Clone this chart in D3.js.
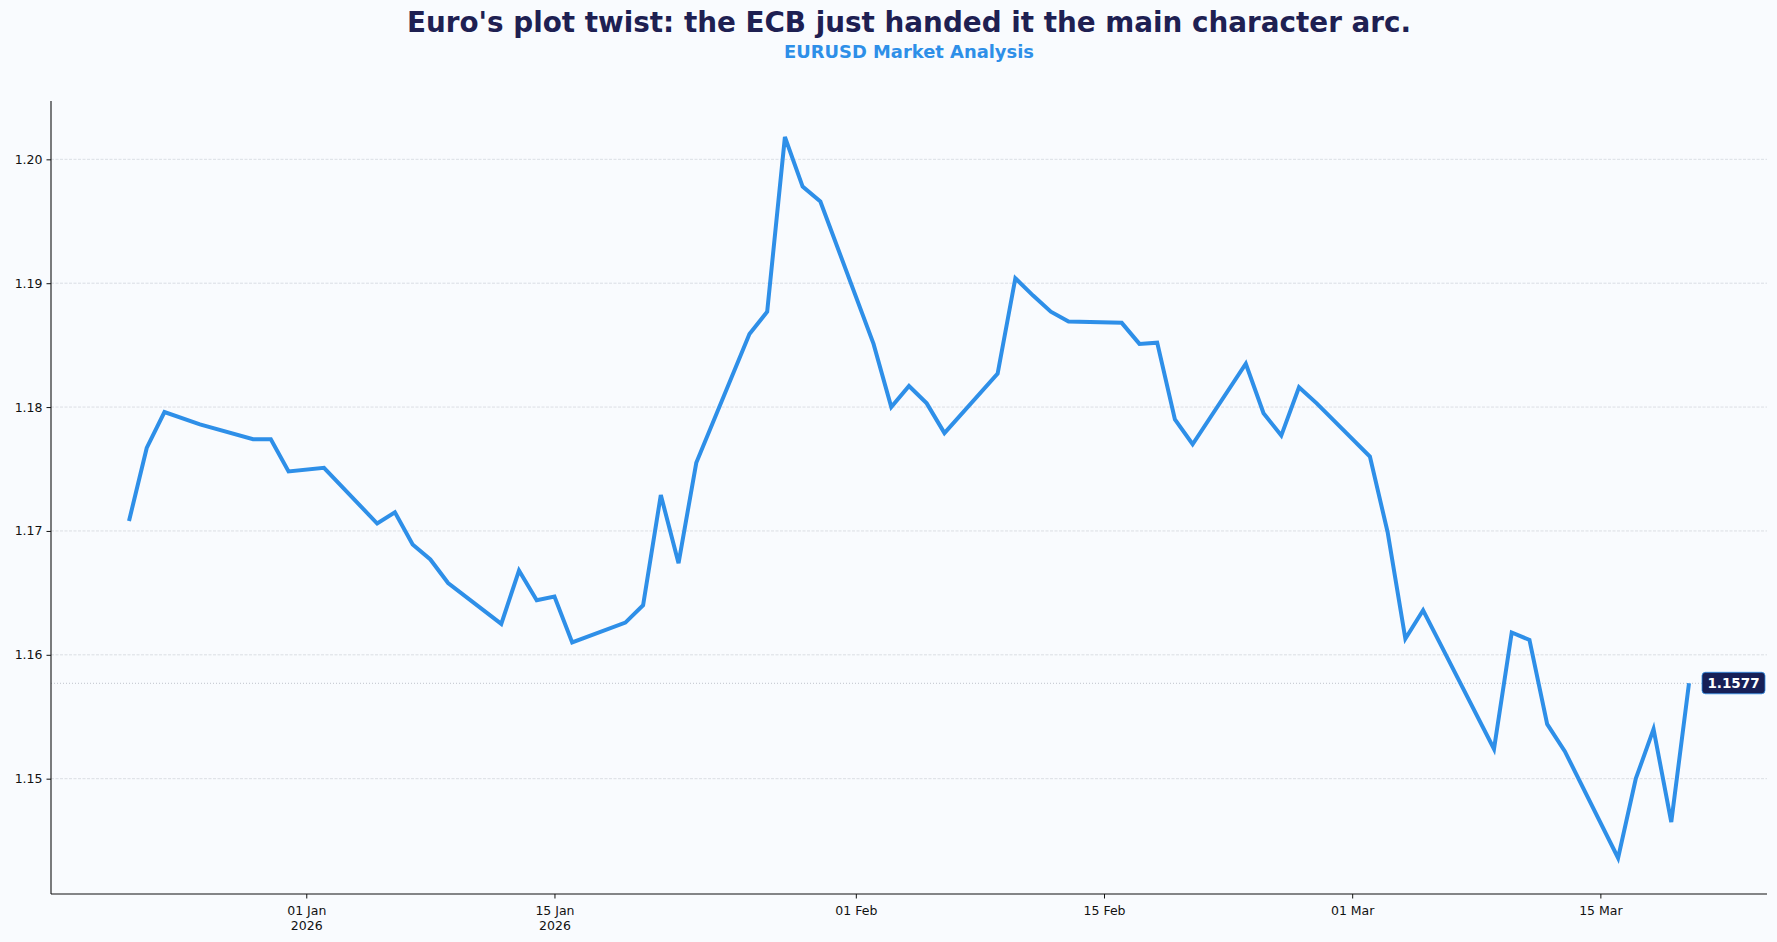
<!DOCTYPE html>
<html>
<head>
<meta charset="utf-8">
<script src="https://cdn.jsdelivr.net/npm/d3@7"></script>
<style>
  html, body { margin: 0; padding: 0; background: #f9fbfe; }
  svg { display: block; }
  text { font-family: "DejaVu Sans", sans-serif; }
</style>
</head>
<body>
<svg id="chart" width="1777" height="942"></svg>
<script>
// ---- Data ----
const titleText = "Euro's plot twist: the ECB just handed it the main character arc.";
const subtitleText = "EURUSD Market Analysis";

const dates = [
  "2025-12-22","2025-12-23","2025-12-24","2025-12-26","2025-12-29","2025-12-30","2025-12-31",
  "2026-01-02","2026-01-05","2026-01-06","2026-01-07","2026-01-08","2026-01-09",
  "2026-01-12","2026-01-13","2026-01-14","2026-01-15","2026-01-16",
  "2026-01-19","2026-01-20","2026-01-21","2026-01-22","2026-01-23",
  "2026-01-26","2026-01-27","2026-01-28","2026-01-29","2026-01-30",
  "2026-02-02","2026-02-03","2026-02-04","2026-02-05","2026-02-06",
  "2026-02-09","2026-02-10","2026-02-11","2026-02-12","2026-02-13",
  "2026-02-16","2026-02-17","2026-02-18","2026-02-19","2026-02-20",
  "2026-02-23","2026-02-24","2026-02-25","2026-02-26","2026-02-27",
  "2026-03-02","2026-03-03","2026-03-04","2026-03-05","2026-03-06",
  "2026-03-09","2026-03-10","2026-03-11","2026-03-12","2026-03-13",
  "2026-03-16","2026-03-17","2026-03-18","2026-03-19","2026-03-20"
];
const closes = [
  1.1708, 1.1767, 1.1796, 1.1786, 1.1774, 1.1774, 1.1748,
  1.1751, 1.1706, 1.1715, 1.1689, 1.1677, 1.1658,
  1.1625, 1.1668, 1.1644, 1.1647, 1.1610,
  1.1626, 1.1640, 1.1729, 1.1674, 1.1755,
  1.1859, 1.1877, 1.2018, 1.1978, 1.1966,
  1.1851, 1.1800, 1.1817, 1.1803, 1.1779,
  1.1827, 1.1904, 1.1890, 1.1877, 1.1869,
  1.1868, 1.1851, 1.1852, 1.1790, 1.1770,
  1.1835, 1.1795, 1.1777, 1.1816, 1.1803,
  1.1760, 1.1699, 1.1613, 1.1636, 1.1608,
  1.1524, 1.1618, 1.1612, 1.1544, 1.1522,
  1.1436, 1.1500, 1.1540, 1.1465, 1.1577
];
const lastValueLabel = "1.1577";

const xTickDates = ["2026-01-01","2026-01-15","2026-02-01","2026-02-15","2026-03-01","2026-03-15"];
const xTickLabels = [["01 Jan","2026"],["15 Jan","2026"],["01 Feb"],["15 Feb"],["01 Mar"],["15 Mar"]];
const yTicks = [1.15, 1.16, 1.17, 1.18, 1.19, 1.20];
const yTickLabels = ["1.15","1.16","1.17","1.18","1.19","1.20"];

// ---- Layout ----
const W = 1777, H = 942;
const plot = { left: 51, right: 1767, top: 101, bottom: 894 };
const colors = {
  bg: "#f9fbfe", title: "#1e2052", subtitle: "#2e8fe8", line: "#2e8fe8",
  grid: "#d3d7dd", axis: "#111111", badge: "#172057"
};

const parse = d3.utcParse("%Y-%m-%d");
const data = dates.map((d, i) => ({ date: parse(d), value: closes[i] }));

// matplotlib-like 5% margins
const xExt = d3.extent(data, d => d.date);
const xPad = (xExt[1] - xExt[0]) * 0.05;
const yExt = d3.extent(data, d => d.value);
const yPad = (yExt[1] - yExt[0]) * 0.05;

const x = d3.scaleUtc()
  .domain([new Date(+xExt[0] - xPad), new Date(+xExt[1] + xPad)])
  .range([plot.left, plot.right]);
const y = d3.scaleLinear()
  .domain([yExt[0] - yPad, yExt[1] + yPad])
  .range([plot.bottom, plot.top]);

const svg = d3.select("#chart");
svg.append("rect").attr("width", W).attr("height", H).attr("fill", colors.bg);

// Titles (centred on the axes)
const cx = (plot.left + plot.right) / 2;
svg.append("text").attr("x", cx).attr("y", 31.5)
  .attr("text-anchor", "middle").attr("font-size", 27.8).attr("font-weight", "bold")
  .attr("fill", colors.title).text(titleText);
svg.append("text").attr("x", cx).attr("y", 57.5)
  .attr("text-anchor", "middle").attr("font-size", 17.9).attr("font-weight", "bold")
  .attr("fill", colors.subtitle).text(subtitleText);

// Grid lines
svg.append("g").selectAll("line").data(yTicks).join("line")
  .attr("x1", plot.left).attr("x2", plot.right)
  .attr("y1", d => y(d)).attr("y2", d => y(d))
  .attr("stroke", colors.grid).attr("stroke-width", 0.8)
  .attr("stroke-dasharray", "3,1.5");

// Last value reference line
const lastVal = closes[closes.length - 1];
svg.append("line")
  .attr("x1", plot.left).attr("x2", plot.right)
  .attr("y1", y(lastVal)).attr("y2", y(lastVal))
  .attr("stroke", "#b8bec6").attr("stroke-width", 0.9)
  .attr("stroke-dasharray", "1,2");

// Series line
const line = d3.line().x(d => x(d.date)).y(d => y(d.value));
svg.append("path").datum(data)
  .attr("d", line)
  .attr("fill", "none").attr("stroke", colors.line)
  .attr("stroke-width", 4).attr("stroke-linejoin", "miter").attr("stroke-linecap", "butt");

// Axes
const yAxis = d3.axisLeft(y).tickValues(yTicks)
  .tickFormat((d, i) => yTickLabels[i]).tickSize(4.5).tickPadding(4);
const gy = svg.append("g").attr("transform", `translate(${plot.left},0)`).call(yAxis);
gy.select(".domain").attr("d", `M0,${plot.top}V${plot.bottom}`).attr("stroke", colors.axis).attr("stroke-width", 1.1);
gy.selectAll(".tick line").attr("stroke", colors.axis).attr("stroke-width", 1);
gy.selectAll(".tick text").attr("font-size", 12.5).attr("fill", "#111")
  .attr("font-family", "DejaVu Sans, sans-serif");

const xTickVals = xTickDates.map(parse);
const xAxis = d3.axisBottom(x).tickValues(xTickVals).tickFormat("").tickSize(4.5);
const gx = svg.append("g").attr("transform", `translate(0,${plot.bottom})`).call(xAxis);
gx.select(".domain").attr("d", `M${plot.left},0H${plot.right}`).attr("stroke", colors.axis).attr("stroke-width", 1.1);
gx.selectAll(".tick line").attr("stroke", colors.axis).attr("stroke-width", 1);
gx.selectAll(".tick").each(function(d, i) {
  const t = d3.select(this).append("text")
    .attr("text-anchor", "middle").attr("fill", "#111")
    .attr("font-size", 12.5).attr("font-family", "DejaVu Sans, sans-serif");
  xTickLabels[i].forEach((s, k) => {
    t.append("tspan").attr("x", 0).attr("y", 21 + k * 14.5).text(s);
  });
});

// Last value badge
const bx = plot.right - 65, by = y(lastVal);
const badge = svg.append("g").attr("transform", `translate(${bx},${by})`);
badge.append("rect").attr("x", 0).attr("y", -11).attr("width", 63).attr("height", 21.5)
  .attr("rx", 3.5).attr("fill", colors.badge).attr("stroke", "#2e8fe8").attr("stroke-width", 0.8);
badge.append("text").attr("x", 31.5).attr("y", 4.8).attr("text-anchor", "middle")
  .attr("font-size", 13.5).attr("font-weight", "bold").attr("fill", "#ffffff").text(lastValueLabel);
</script>
</body>
</html>
